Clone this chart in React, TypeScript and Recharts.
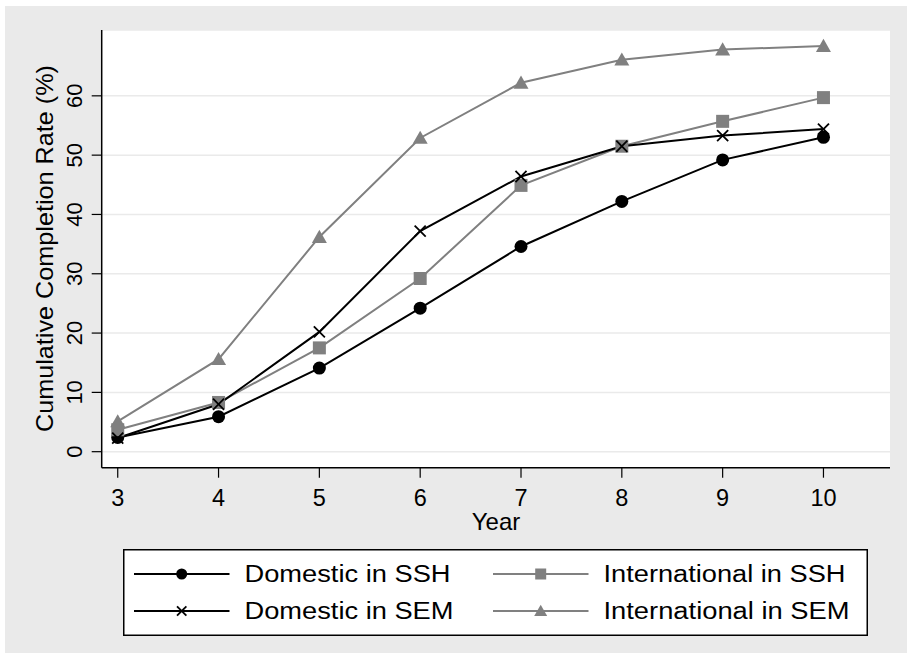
import React from 'react';
import { LineChart, Line, XAxis, YAxis, CartesianGrid, Legend } from 'recharts';

// Cumulative completion rate (%) by year since entry
const years = [3, 4, 5, 6, 7, 8, 9, 10];
const domesticSSH = [2.4, 5.9, 14.1, 24.2, 34.6, 42.2, 49.2, 53.0];
const internationalSSH = [3.7, 8.3, 17.5, 29.2, 44.9, 51.5, 55.7, 59.7];
const domesticSEM = [2.3, 8.0, 20.2, 37.2, 46.4, 51.5, 53.3, 54.4];
const internationalSEM = [5.1, 15.6, 36.2, 52.9, 62.2, 66.1, 67.8, 68.4];

const yTicks = [0, 10, 20, 30, 40, 50, 60];

const FONT = '"Liberation Sans", Arial, Helvetica, sans-serif';
const GRAY = '#808080';
const BG = '#EAEAEA';

const chartData = years.map((year, i) => ({
  year,
  domSSH: domesticSSH[i],
  intSSH: internationalSSH[i],
  domSEM: domesticSEM[i],
  intSEM: internationalSEM[i],
}));

type Marker = 'circle' | 'square' | 'x' | 'triangle';

// marker shapes, size is the half-width
const drawMarker = (kind: Marker, cx: number, cy: number, s: number, color: string, key?: any) => {
  if (kind === 'circle') return <circle key={key} cx={cx} cy={cy} r={s} fill={color} />;
  if (kind === 'square')
    return <rect key={key} x={cx - s} y={cy - s} width={s * 2} height={s * 2} fill={color} />;
  if (kind === 'triangle') {
    const h = s * 1.75;
    return (
      <polygon
        key={key}
        points={`${cx},${cy - h * 0.55} ${cx - s},${cy + h * 0.45} ${cx + s},${cy + h * 0.45}`}
        fill={color}
      />
    );
  }
  const d = s * 0.85;
  return (
    <g key={key} stroke={color} strokeWidth={1.8}>
      <line x1={cx - d} y1={cy - d} x2={cx + d} y2={cy + d} />
      <line x1={cx - d} y1={cy + d} x2={cx + d} y2={cy - d} />
    </g>
  );
};

const series: { key: string; name: string; color: string; marker: Marker; size: number }[] = [
  { key: 'domSSH', name: 'Domestic in SSH', color: '#000', marker: 'circle', size: 6.5 },
  { key: 'intSSH', name: 'International in SSH', color: GRAY, marker: 'square', size: 6.5 },
  { key: 'domSEM', name: 'Domestic in SEM', color: '#000', marker: 'x', size: 6.5 },
  { key: 'intSEM', name: 'International in SEM', color: GRAY, marker: 'triangle', size: 7.5 },
];

// legend cells, laid out two per row
const legendCells = [
  { ...series[0], col: 0, row: 0, textLen: 206 },
  { ...series[1], col: 1, row: 0, textLen: 242 },
  { ...series[2], col: 0, row: 1, textLen: 209 },
  { ...series[3], col: 1, row: 1, textLen: 246 },
];

const LegendBox = () => (
  <svg width={745} height={87} style={{ display: 'block' }}>
    <rect x={0.75} y={0.75} width={743.5} height={85.5} fill="#fff" stroke="#000" strokeWidth={1.5} />
    {legendCells.map((c) => {
      const x0 = c.col === 0 ? 11 : 370;
      const y = c.row === 0 ? 25 : 62;
      return (
        <g key={c.key}>
          <line x1={x0} y1={y} x2={x0 + 95.5} y2={y} stroke={c.color} strokeWidth={2} />
          {drawMarker(c.marker, x0 + 47.7, y, c.size - 1, c.color)}
          <text
            x={x0 + 110.5}
            y={y + 7.5}
            fontFamily={FONT}
            fontSize={23}
            fill="#000"
            textLength={c.textLen}
            lengthAdjust="spacingAndGlyphs"
          >
            {c.name}
          </text>
        </g>
      );
    })}
  </svg>
);

const YTick = (props: any) => {
  const { y, payload } = props;
  return (
    <text
      x={81.7}
      y={y}
      transform={`rotate(-90, 81.7, ${y})`}
      textAnchor="middle"
      fontFamily={FONT}
      fontSize={22}
      fill="#000"
    >
      {payload.value}
    </text>
  );
};

const XTick = (props: any) => {
  const { x, payload } = props;
  return (
    <text x={x} y={506} textAnchor="middle" fontFamily={FONT} fontSize={23.5} fill="#000">
      {payload.value}
    </text>
  );
};

export default function App() {
  return (
    <div style={{ position: 'absolute', left: 0, top: 0, width: 907, height: 655, background: '#fff' }}>
      <div style={{ position: 'absolute', left: 5, top: 6, width: 902, height: 647, background: BG }} />
      <div style={{ position: 'absolute', left: 0, top: 0 }}>
        <LineChart
          width={907}
          height={655}
          data={chartData}
          margin={{ top: 30, right: 17, bottom: 157.3, left: 0 }}
        >
          <CartesianGrid vertical={false} fill="#fff" stroke={BG} strokeWidth={1.5} />
          <XAxis
            dataKey="year"
            type="number"
            domain={[2.841, 10.66]}
            ticks={years}
            allowDataOverflow
            height={30}
            tickSize={10}
            axisLine={{ stroke: '#000', strokeWidth: 1.5 }}
            tickLine={{ stroke: '#000', strokeWidth: 1.2 }}
            tick={<XTick />}
            label={{
              content: () => (
                <text x={496} y={530} textAnchor="middle" fontFamily={FONT} fontSize={24} fill="#000">
                  Year
                </text>
              ),
            }}
          />
          <YAxis
            type="number"
            domain={[-2.7, 71.1]}
            ticks={yTicks}
            allowDataOverflow
            width={101.7}
            tickSize={10}
            axisLine={{ stroke: '#000', strokeWidth: 1.5 }}
            tickLine={{ stroke: '#000', strokeWidth: 1.2 }}
            tick={<YTick />}
            label={{
              content: () => (
                <text
                  x={53}
                  y={248.5}
                  transform="rotate(-90, 53, 248.5)"
                  textAnchor="middle"
                  fontFamily={FONT}
                  fontSize={24}
                  fill="#000"
                  textLength={367}
                  lengthAdjust="spacingAndGlyphs"
                >
                  Cumulative Completion Rate (%)
                </text>
              ),
            }}
          />
          <Legend
            layout="vertical"
            align="center"
            verticalAlign="middle"
            content={() => <LegendBox />}
            wrapperStyle={{ left: 123, top: 549, width: 745, height: 87, bottom: 'auto', right: 'auto' }}
          />
          {series.map((s) => (
            <Line
              key={s.key}
              dataKey={s.key}
              name={s.name}
              type="linear"
              stroke={s.color}
              strokeWidth={2}
              isAnimationActive={false}
              dot={(p: any) => drawMarker(s.marker, p.cx, p.cy, s.size, s.color, p.index)}
              activeDot={false}
            />
          ))}
        </LineChart>
      </div>
    </div>
  );
}
